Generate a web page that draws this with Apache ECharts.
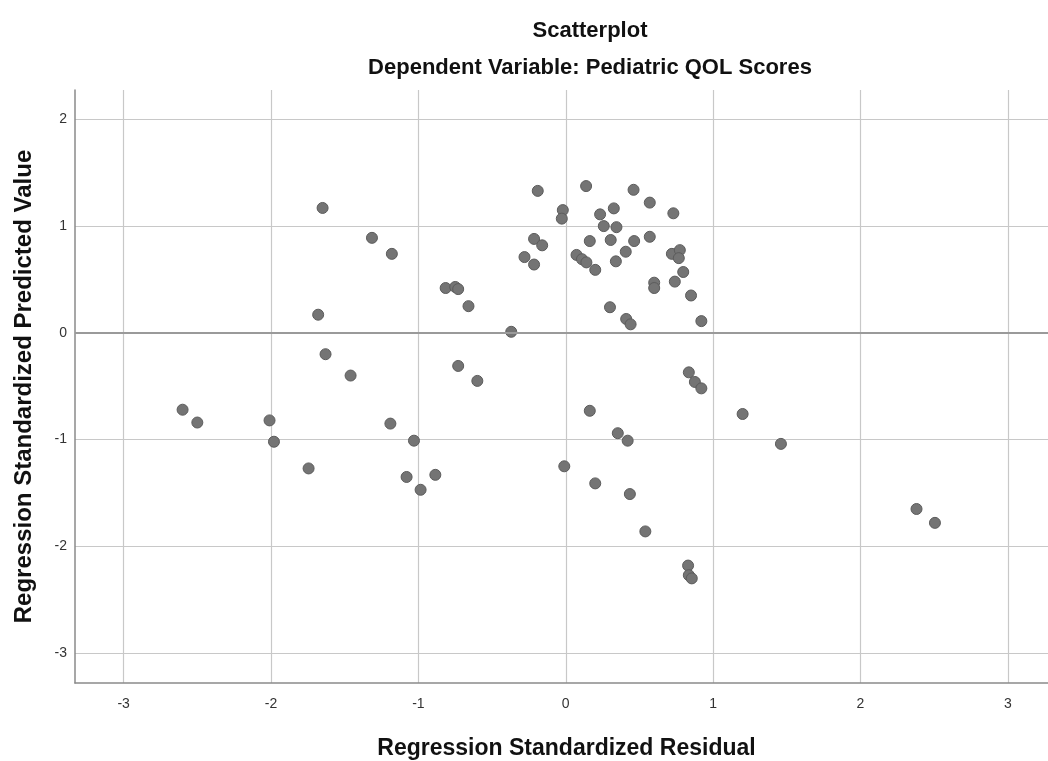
<!DOCTYPE html>
<html>
<head>
<meta charset="utf-8">
<script src="https://cdn.jsdelivr.net/npm/echarts@6/dist/echarts.min.js"></script>
<style>
  html, body { margin: 0; padding: 0; background: #fff; }
  #grafico { width: 1048px; height: 761px; }
</style>
</head>
<body>
<div id="grafico"></div>
<script>
/* valores */
var residual = [
    -2.60, -2.50, -2.01, -1.98, -1.65, -1.68, -1.63, -1.46, -1.745, -1.315,
    -1.18, -0.815, -0.75, -0.73, -0.66, -0.37, -0.73, -0.60, -0.19, -0.215,
    -0.16, -0.28, -0.215, -1.19, -1.03, -1.08, -0.885, -0.985, -0.01, 0.138,
    0.46, 0.57, 0.73, -0.02, -0.027, 0.233, 0.326, 0.258, 0.344, 0.163,
    0.305, 0.464, 0.57, 0.407, 0.34, 0.073, 0.11, 0.14, 0.20, 0.72,
    0.774, 0.767, 0.797, 0.74, 0.60, 0.60, 0.85, 0.92, 0.30, 0.41,
    0.44, 0.163, 0.353, 0.42, 0.20, 0.435, 0.54, 0.83, 0.835, 0.855,
    0.835, 0.876, 0.92, 1.20, 1.46, 2.38, 2.505
];
var predicted = [
    -0.72, -0.84, -0.82, -1.02, 1.17, 0.17, -0.20, -0.40, -1.27, 0.89,
    0.74, 0.42, 0.43, 0.41, 0.25, 0.01, -0.31, -0.45, 1.33, 0.88,
    0.82, 0.71, 0.64, -0.85, -1.01, -1.35, -1.33, -1.47, -1.25, 1.375,
    1.34, 1.22, 1.12, 1.15, 1.07, 1.11, 1.166, 1.00, 0.99, 0.86,
    0.87, 0.86, 0.90, 0.76, 0.67, 0.73, 0.69, 0.66, 0.59, 0.74,
    0.775, 0.70, 0.57, 0.48, 0.47, 0.42, 0.35, 0.11, 0.24, 0.13,
    0.08, -0.73, -0.94, -1.01, -1.41, -1.51, -1.86, -2.18, -2.27, -2.30,
    -0.37, -0.46, -0.52, -0.76, -1.04, -1.65, -1.78
];
var xTicks = [-3, -2, -1, 0, 1, 2, 3];
var yTicks = [-3, -2, -1, 0, 1, 2];

var pontos = [];
for (var i = 0; i < residual.length; i++) {
    pontos.push([residual[i], predicted[i]]);
}

var dom = document.getElementById("grafico");
var myChart = echarts.init(dom);

var fonte = '"Liberation Sans", Arial, sans-serif';

var option = {
    animation: false,
    backgroundColor: '#fff',
    title: [{
        text: 'Scatterplot',
        left: 585,
        top: 15,
        textAlign: 'center',
        textStyle: { fontFamily: fonte, fontSize: 22, fontWeight: 'bold', color: '#111' }
    }, {
        text: 'Dependent Variable: Pediatric QOL Scores',
        left: 585,
        top: 52,
        textAlign: 'center',
        textStyle: { fontFamily: fonte, fontSize: 22, fontWeight: 'bold', color: '#111' }
    }],
    grid: {
        left: 75,
        width: 983,
        top: 90,
        bottom: 78,
        outerBoundsMode: 'none'
    },
    xAxis: {
        type: 'value',
        min: -3.33,
        max: 3.34,
        name: 'Regression Standardized Residual',
        nameLocation: 'middle',
        nameGap: 54,
        nameTextStyle: { fontFamily: fonte, fontSize: 23, fontWeight: 'bold', color: '#111' },
        axisLine: { onZero: false, lineStyle: { color: '#8a8a8a', width: 1.5 } },
        axisTick: { show: false, customValues: xTicks },
        axisLabel: {
            customValues: xTicks,
            margin: 14,
            fontFamily: fonte,
            fontSize: 14,
            color: '#333'
        },
        splitLine: { show: true, lineStyle: { color: '#c8c8c8', width: 1.2 } }
    },
    yAxis: {
        type: 'value',
        min: -3.28,
        max: 2.275,
        name: 'Regression Standardized Predicted Value',
        nameLocation: 'middle',
        nameGap: 39,
        nameTextStyle: { fontFamily: fonte, fontSize: 24, fontWeight: 'bold', color: '#111' },
        axisLine: { show: true, onZero: false, lineStyle: { color: '#8a8a8a', width: 1.5 } },
        axisTick: { show: false, customValues: yTicks },
        axisLabel: {
            customValues: yTicks,
            margin: 8,
            fontFamily: fonte,
            fontSize: 14,
            color: '#333'
        },
        splitLine: { show: true, lineStyle: { color: '#c8c8c8', width: 1.2 } }
    },
    series: [{
        name: 'residuos',
        type: 'scatter',
        symbol: 'circle',
        symbolSize: 11,
        itemStyle: { color: '#747474', borderColor: '#5c5c5c', borderWidth: 1, opacity: 1 },
        data: pontos,
        markLine: {
            silent: true,
            symbol: ['none', 'none'],
            label: { show: false },
            lineStyle: { color: '#9a9a9a', width: 2, type: 'solid' },
            data: [{ yAxis: 0 }]
        },
        z: 3
    }]
};

if (option && typeof option === "object") {
    myChart.setOption(option, true);
}
</script>
</body>
</html>
